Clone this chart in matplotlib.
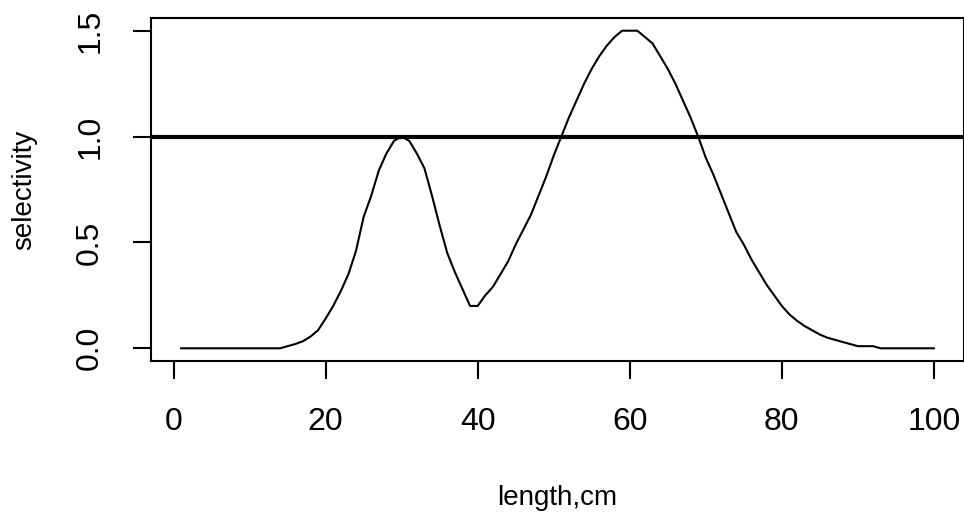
import matplotlib
matplotlib.use("Agg")
import matplotlib.pyplot as plt
import numpy as np

# selectivity curve at each cm
length = list(range(1, 101))
selectivity = [
    0, 0, 0, 0, 0, 0, 0, 0, 0, 0,                                # 1-10
    0, 0, 0, 0, 0.01, 0.02, 0.033, 0.055, 0.085, 0.14,          # 11-20
    0.2, 0.27, 0.35, 0.46, 0.62, 0.72, 0.84, 0.92, 0.98, 1.0,   # 21-30
    0.98, 0.92, 0.85, 0.72, 0.58, 0.45, 0.36, 0.28, 0.2, 0.2,   # 31-40
    0.25, 0.29, 0.35, 0.41, 0.49, 0.56, 0.63, 0.72, 0.81, 0.91, # 41-50
    1.0, 1.09, 1.17, 1.25, 1.32, 1.38, 1.43, 1.47, 1.5, 1.5,    # 51-60
    1.5, 1.47, 1.44, 1.38, 1.32, 1.25, 1.17, 1.09, 1.0, 0.9,    # 61-70
    0.82, 0.73, 0.64, 0.55, 0.49, 0.42, 0.36, 0.3, 0.25, 0.2,   # 71-80
    0.16, 0.13, 0.105, 0.085, 0.065, 0.05, 0.04, 0.03, 0.02, 0.01,  # 81-90
    0.01, 0.01, 0, 0, 0, 0, 0, 0, 0, 0,                          # 91-100
]
ref_level = 1.0
xticks = [0, 20, 40, 60, 80, 100]
yticks = [0.0, 0.5, 1.0, 1.5]

plt.rcParams['font.family'] = ['Liberation Sans', 'DejaVu Sans']

fig = plt.figure(figsize=(9.64, 5.18), dpi=100)
ax = fig.add_axes([151 / 964, 1 - 361 / 518, 813 / 964, 343 / 518])

ax.plot(length, selectivity, color='black', lw=1.5)
ax.axhline(ref_level, color='black', lw=3)

# R style 4% padding
ax.set_xlim(1 - 0.04 * 99, 100 + 0.04 * 99)
ax.set_ylim(-0.06, 1.56)

ax.set_xticks(xticks)
ax.set_xticklabels([str(t) for t in xticks])
ax.set_yticks(yticks)
ax.set_yticklabels(["%.1f" % t for t in yticks], rotation=90, va='center')

ax.tick_params(direction='out', length=13, width=1.5, labelsize=23, pad=20)
for s in ax.spines.values():
    s.set_linewidth(1.5)

fig.text((151 + 964) / 2 / 964, 1 - 505 / 518, "length,cm", fontsize=20,
         ha='center', va='baseline')
fig.text(24 / 964, 1 - 190 / 518, "selectivity", fontsize=20,
         ha='center', va='center', rotation=90)

fig.savefig("out.png", dpi=100)
